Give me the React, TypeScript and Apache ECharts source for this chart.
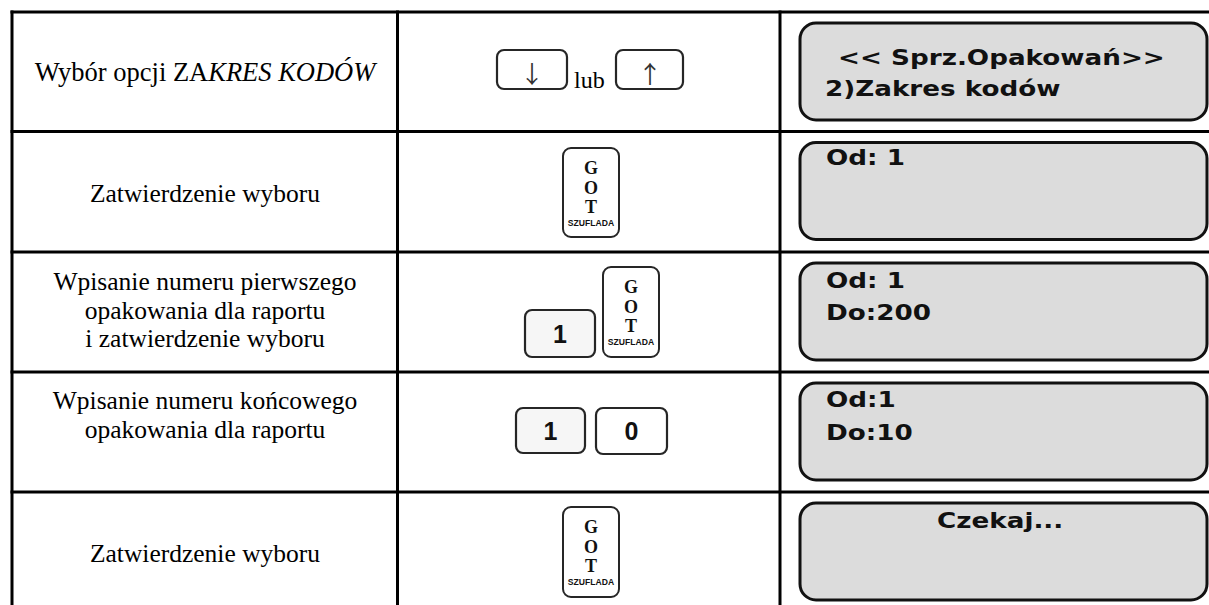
import React, { useEffect, useRef } from "react";
import * as echarts from "echarts";

// ---- content (texts of the table) ----
const stepTexts: string[] = [
  "Wybór opcji ZAKRES KODÓW",
  "Zatwierdzenie wyboru",
  "Wpisanie numeru pierwszego\nopakowania dla raportu\ni zatwierdzenie wyboru",
  "Wpisanie numeru końcowego\nopakowania dla raportu",
  "Zatwierdzenie wyboru",
];
const italicTail = "KRES KODÓW";
const keyRows: string[][] = [["↓", "lub", "↑"], ["GOT"], ["1", "GOT"], ["1", "0"], ["GOT"]];
const gotLetters: string[] = ["G", "O", "T"];
const gotCaption = "SZUFLADA";
const displayTexts: string[][] = [
  ["<< Sprz.Opakowań>>", "2)Zakres kodów"],
  ["Od: 1"],
  ["Od: 1", "Do:200"],
  ["Od:1", "Do:10"],
  ["Czekaj..."],
];

function buildGraphic(): any[] {
  const els: any[] = [];
  const rowTops = [12, 131.5, 252, 372, 492];
  const bottom = 605;
  // table lines
  rowTops.forEach((y) =>
    els.push({ type: "line", shape: { x1: 10.5, y1: y, x2: 1209, y2: y }, style: { stroke: "#000", lineWidth: 3 } })
  );
  [12, 397.5, 780].forEach((x) =>
    els.push({ type: "line", shape: { x1: x, y1: 10.5, x2: x, y2: bottom }, style: { stroke: "#000", lineWidth: 3 } })
  );

  // left column texts
  const leftCenters = [72, 193, 310, 415, 553];
  stepTexts.forEach((t, i) => {
    let text = t;
    let rich: any = undefined;
    let size = 25.5;
    if (t.endsWith(italicTail)) {
      size = 26.5;
      text = "{n|" + t.slice(0, t.length - italicTail.length) + "}{i|" + italicTail + "}";
      rich = {
        n: { fontFamily: "Liberation Serif", fontSize: size, fill: "#000" },
        i: { fontFamily: "Liberation Serif", fontSize: size, fontStyle: "italic", fill: "#000" },
      };
    }
    els.push({
      type: "text",
      x: 205,
      y: leftCenters[i],
      style: {
        text,
        rich,
        fontFamily: "Liberation Serif",
        fontSize: size,
        lineHeight: 28.5,
        fill: "#000",
        textAlign: "center",
        textVerticalAlign: "middle",
      },
    });
  });

  // keys
  const keyStroke = "#262626";
  const plainKey = (x: number, y: number, w: number, h: number, fill: string) => ({
    type: "rect",
    shape: { x, y, width: w, height: h, r: 7 },
    style: { fill, stroke: keyStroke, lineWidth: 2.2 },
  });
  const gotKey = (x: number, y: number, h: number) => {
    els.push({
      type: "rect",
      shape: { x, y, width: 56, height: h, r: 8 },
      style: { fill: "#fff", stroke: keyStroke, lineWidth: 2 },
    });
    gotLetters.forEach((l, k) =>
      els.push({
        type: "text",
        x: x + 28,
        y: y + 20 + k * 19.5,
        style: {
          text: l,
          fontFamily: "Liberation Serif",
          fontWeight: "bold",
          fontSize: 18,
          fill: "#111",
          textAlign: "center",
          textVerticalAlign: "middle",
        },
      })
    );
    els.push({
      type: "text",
      x: x + 28,
      y: y + 74.5,
      style: {
        text: gotCaption,
        fontFamily: "Liberation Sans",
        fontWeight: "bold",
        fontSize: 8.6,
        fill: "#111",
        textAlign: "center",
        textVerticalAlign: "middle",
      },
    });
  };
  const digit = (t: string, cx: number, cy: number) =>
    els.push({
      type: "text",
      x: cx,
      y: cy,
      style: {
        text: t,
        fontFamily: "Liberation Sans",
        fontWeight: "bold",
        fontSize: 25,
        fill: "#111",
        textAlign: "center",
        textVerticalAlign: "middle",
      },
    });

  // row 1: arrows
  els.push(plainKey(497, 50, 70, 39, "#fff"));
  els.push(plainKey(616, 50, 67, 39, "#fff"));
  const arrowStyle = (t: string) => ({
    text: t,
    fontFamily: "Noto Sans CJK SC",
    fontSize: 24,
    fill: "#333",
    textAlign: "center",
    textVerticalAlign: "middle",
  });
  els.push({ type: "text", x: 532, y: 72, style: arrowStyle(keyRows[0][0]) });
  els.push({ type: "text", x: 650, y: 72, style: arrowStyle(keyRows[0][2]) });
  els.push({
    type: "text",
    x: 574,
    y: 80,
    style: { text: keyRows[0][1], fontFamily: "Liberation Serif", fontSize: 24, fill: "#000", textAlign: "left", textVerticalAlign: "middle" },
  });
  // row 2
  gotKey(563, 148, 89);
  // row 3
  els.push(plainKey(525, 310, 70, 47, "#f6f6f6"));
  digit(keyRows[2][0], 560, 334);
  gotKey(603, 267, 90);
  // row 4
  els.push(plainKey(516, 408, 69, 45, "#f6f6f6"));
  digit(keyRows[3][0], 550.5, 431);
  els.push(plainKey(596, 408, 71, 46, "#fff"));
  digit(keyRows[3][1], 631.5, 431);
  // row 5
  gotKey(563, 507, 90);

  // displays
  const dispX = [[838, 825], [826], [826, 826], [826, 826], [937]];
  const dispY = [[58, 89], [158], [281, 313], [400, 433], [521]];
  rowTops.forEach((top, i) => {
    els.push({
      type: "rect",
      shape: { x: 800, y: top + 11, width: 407, height: 97, r: 16 },
      style: { fill: "#dcdcdc", stroke: "#111", lineWidth: 3 },
    });
    displayTexts[i].forEach((line, j) => {
      els.push({
        type: "text",
        x: dispX[i][j],
        y: dispY[i][j],
        scaleX: 1.22,
        style: {
          text: line,
          fontFamily: "DejaVu Sans",
          fontWeight: "bold",
          fontSize: 21.5,
          fill: "#111",
          textAlign: "left",
          textVerticalAlign: "middle",
        },
      });
    });
  });
  return els;
}

export default function App() {
  const ref = useRef<HTMLDivElement>(null);
  useEffect(() => {
    if (!ref.current) return;
    const chart = echarts.init(ref.current, undefined, { renderer: "svg" });
    chart.setOption({
      animation: false,
      backgroundColor: "#fff",
      graphic: { elements: buildGraphic() },
    });
    return () => chart.dispose();
  }, []);
  return (
    <div
      ref={ref}
      style={{ position: "absolute", left: 0, top: 0, width: 1209, height: 605, background: "#fff" }}
    />
  );
}
